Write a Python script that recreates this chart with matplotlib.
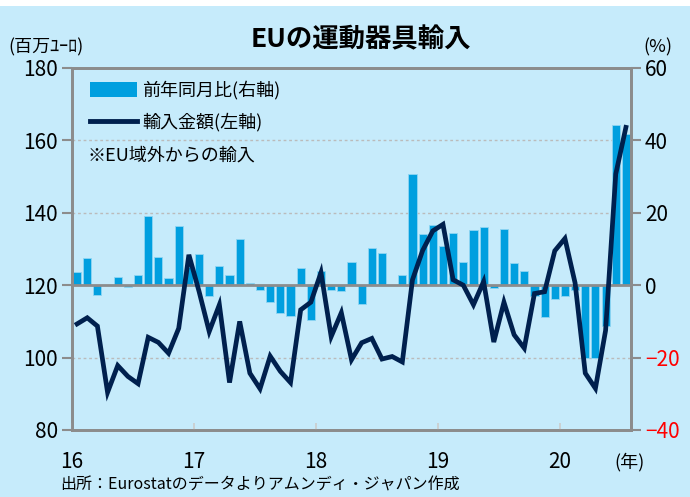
import matplotlib
matplotlib.use("Agg")
import matplotlib.pyplot as plt
from matplotlib.patches import Patch, Rectangle
from matplotlib.lines import Line2D
import numpy as np

plt.rcParams['font.family'] = ['Noto Sans CJK JP', 'DejaVu Sans']

# Monthly data, Jan 2016 - Jul 2020
imports = [109.3, 111.0, 108.7, 90.4, 97.8, 94.8, 92.8, 105.6, 104.2, 101.2, 108.1, 128.4,
           118.3, 107.2, 114.6, 93.1, 110.0, 95.7, 91.4, 100.4, 96.2, 93.1, 113.2, 115.3,
           123.5, 105.8, 112.4, 99.4, 104.1, 105.3, 99.6, 100.3, 98.8, 121.5, 129.6, 135.0,
           136.8, 121.5, 120.0, 114.6, 121.0, 104.3, 115.3, 106.3, 102.6, 117.7, 118.2, 129.5,
           132.9, 120.6, 95.7, 91.5, 107.5, 150.7, 163.6]
yoy = [3.7, 7.6, -2.6, 0.0, 2.4, -0.4, 2.9, 19.0, 7.8, 1.9, 16.4, 5.0,
       8.6, -2.9, 5.2, 2.8, 12.7, 0.7, -1.2, -4.6, -7.6, -8.5, 4.7, -9.7,
       3.8, -1.4, -1.7, 6.5, -5.2, 10.2, 9.0, 0.0, 2.8, 30.6, 14.2, 16.5,
       10.9, 14.5, 6.4, 15.3, 16.0, -0.8, 15.5, 6.1, 3.9, -3.1, -8.7, -3.8,
       -2.9, -1.3, -20.2, -20.2, -11.2, 44.3, 41.9]
year_labels = ['16', '17', '18', '19', '20']
left_ticks = [80, 100, 120, 140, 160, 180]
right_ticks = [-40, -20, 0, 20, 40, 60]

W, H = 690, 497
fig = plt.figure(figsize=(W / 100, H / 100), dpi=100)
fig.patch.set_facecolor('#C6EBFB')
fig.patches.append(Rectangle((0, 1 - 6 / H), 1, 6 / H, transform=fig.transFigure,
                             facecolor='white', edgecolor='none', zorder=0))

L, R, T, B = 72, 631, 68, 430
ax = fig.add_axes([L / W, 1 - B / H, (R - L) / W, (B - T) / H])
ax2 = ax.twinx()
ax.set_zorder(ax2.get_zorder() + 1)
ax.patch.set_visible(False)
ax2.patch.set_facecolor('#FBF3E1')

x = np.arange(len(imports)) + 0.5
blue = '#009FDF'
navy = '#00204E'
gray = '#8C8C8C'

ax2.bar(x, yoy, width=0.8, color=blue, edgecolor='#8FD5F2', linewidth=0.6, zorder=2)
ax2.axhline(0, color=gray, lw=2, zorder=3)
ax2.set_ylim(-40, 60)
ax2.set_yticks(right_ticks)

ax.plot(x, imports, color=navy, lw=3.4, solid_joinstyle='miter', zorder=4)
ax.set_ylim(80, 180)
ax.set_xlim(0, 55)
ax.set_yticks(left_ticks)
for v in [100, 140, 160]:
    ax2.axhline((v - 120) * 1.0, color='#BBBBBB', lw=1.0, ls=(0, (2, 2)), zorder=1)

ax.set_xticks([0, 12, 24, 36, 48])
ax.set_xticklabels(year_labels)

for a in (ax, ax2):
    for s in a.spines.values():
        s.set_color(gray)
        s.set_linewidth(2)

ax.tick_params(axis='y', direction='out', length=7, width=1.5, color=gray,
               labelsize=15, pad=3)
ax2.tick_params(axis='y', direction='out', length=7, width=1.5, color=gray,
                labelsize=15, pad=3)
ax.tick_params(axis='x', direction='in', length=5, width=1.2, color='#CCCCCC',
               labelsize=15, pad=15)
for lab, v in zip(ax2.get_yticklabels(), right_ticks):
    lab.set_color('red' if v < 0 else 'black')

handles = [Patch(facecolor=blue, edgecolor='none'),
           Line2D([0], [0], color=navy, lw=3.5)]
labels = ['前年同月比(右軸)', '輸入金額(左軸)']
ax.legend(handles, labels, loc='upper left', bbox_to_anchor=(0.006, 1.005),
          frameon=False, fontsize=13, handlelength=2.6, handleheight=0.9,
          labelspacing=0.75, handletextpad=0.3, borderaxespad=0.4)

def ft(px, py, s, **kw):
    fig.text(px / W, 1 - py / H, s, **kw)

ft(88, 156, '※EU域外からの輸入', fontsize=13, va='center', ha='left')
ft(361, 40, 'EUの運動器具輸入', fontsize=19, fontweight='bold', va='center', ha='center')
ft(8, 47, '(百万ﾕｰﾛ)', fontsize=13, va='center', ha='left')
ft(672, 47, '(%)', fontsize=13, va='center', ha='right')
ft(630, 462, '(年)', fontsize=13, va='center', ha='center')
ft(60, 485, '出所：Eurostatのデータよりアムンディ・ジャパン作成', fontsize=11.5,
   va='center', ha='left')

fig.savefig('out.png', dpi=100, facecolor=fig.get_facecolor())
